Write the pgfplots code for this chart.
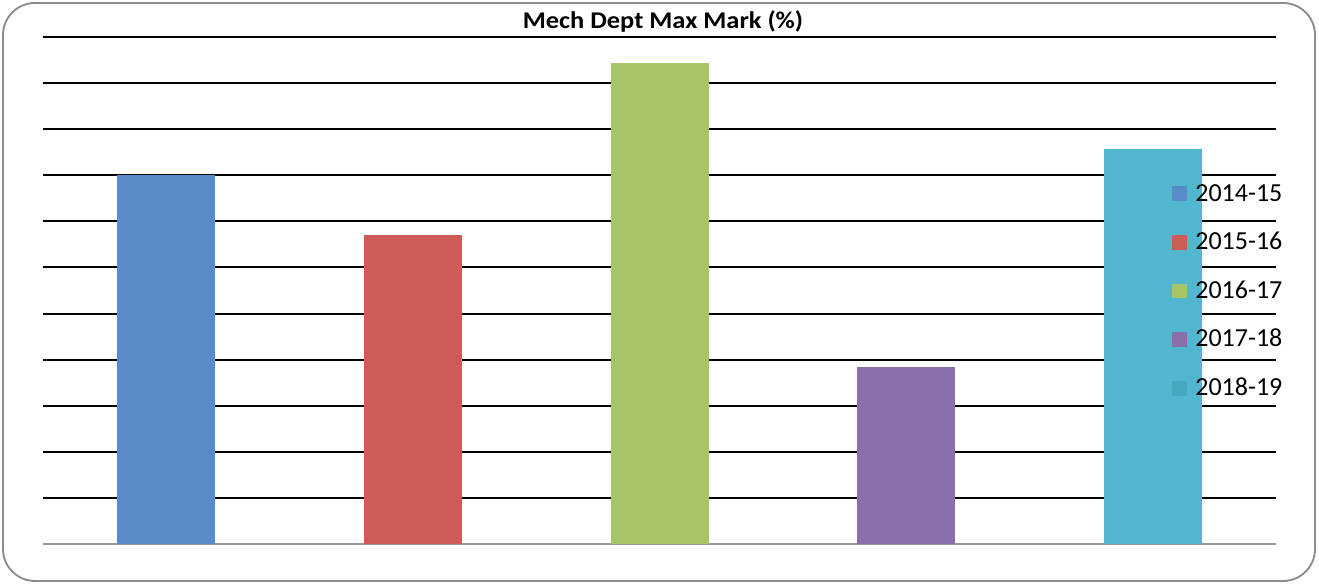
\documentclass[border=0pt]{standalone}
\usepackage{fontspec}
\setmainfont{Carlito}
\usepackage{pgfplots}
\pgfplotsset{compat=1.18}

\definecolor{c1}{HTML}{598BC9}
\definecolor{c2}{HTML}{CD5B57}
\definecolor{c3}{HTML}{A5C566}
\definecolor{c4}{HTML}{8970AB}
\definecolor{c5}{HTML}{53B6CF}
\definecolor{c5leg}{HTML}{48A8C0}

\pgfplotsset{
    sqleg/.style={legend image code/.code={
        \fill[#1] (0pt,-5.6pt) rectangle (11.25pt,5.6pt);
        \path (17.25pt,0pt);
    }},
    bar/.style 2 args={ybar, bar width=73.5pt, fill=#1, draw=none, sqleg=#2},
}

\begin{document}
\begin{tikzpicture}[x=0.75pt,y=0.75pt]
\useasboundingbox (0,0) rectangle (1319,584);
\draw[gray!90, line width=1.4pt, rounded corners=24pt] (3,3) rectangle (1315,581);
\node[anchor=base, font=\bfseries\fontsize{18}{21}\selectfont] at (663,555)
  {\scalebox{1.1}[1]{Mech Dept Max Mark (\%)}};
\begin{axis}[
    at={(32.25pt,30pt)}, anchor=south west,
    scale only axis,
    width=924.75pt, height=380.25pt,
    xmin=0, xmax=5, ymin=0, ymax=11,
    axis x line=bottom, axis y line=left,
    x axis line style={-, draw=gray!80, line width=1.6pt},
    y axis line style={draw=none},
    xtick=\empty,
    ytick={1,...,11}, yticklabels={},
    major tick length=0pt,
    ymajorgrids,
    major grid style={draw=black, line width=1.5pt},
    legend style={draw=none, fill=none, inner sep=0pt,
        at={(0.9157,0.499)}, anchor=west,
        row sep=21.4pt,
        font=\fontsize{19.5}{22}\selectfont,
        nodes={inner sep=0pt, text height=13pt, text depth=2pt}},
    legend cell align=left,
]
\addplot[bar={c1}{c1}] coordinates {(0.5,8.00)};
\addplot[bar={c2}{c2}] coordinates {(1.5,6.70)};
\addplot[bar={c3}{c3}] coordinates {(2.5,10.43)};
\addplot[bar={c4}{c4}] coordinates {(3.5,3.84)};
\addplot[bar={c5}{c5leg}] coordinates {(4.5,8.57)};
\legend{2014-15,2015-16,2016-17,2017-18,2018-19}
\end{axis}
\end{tikzpicture}
\end{document}
